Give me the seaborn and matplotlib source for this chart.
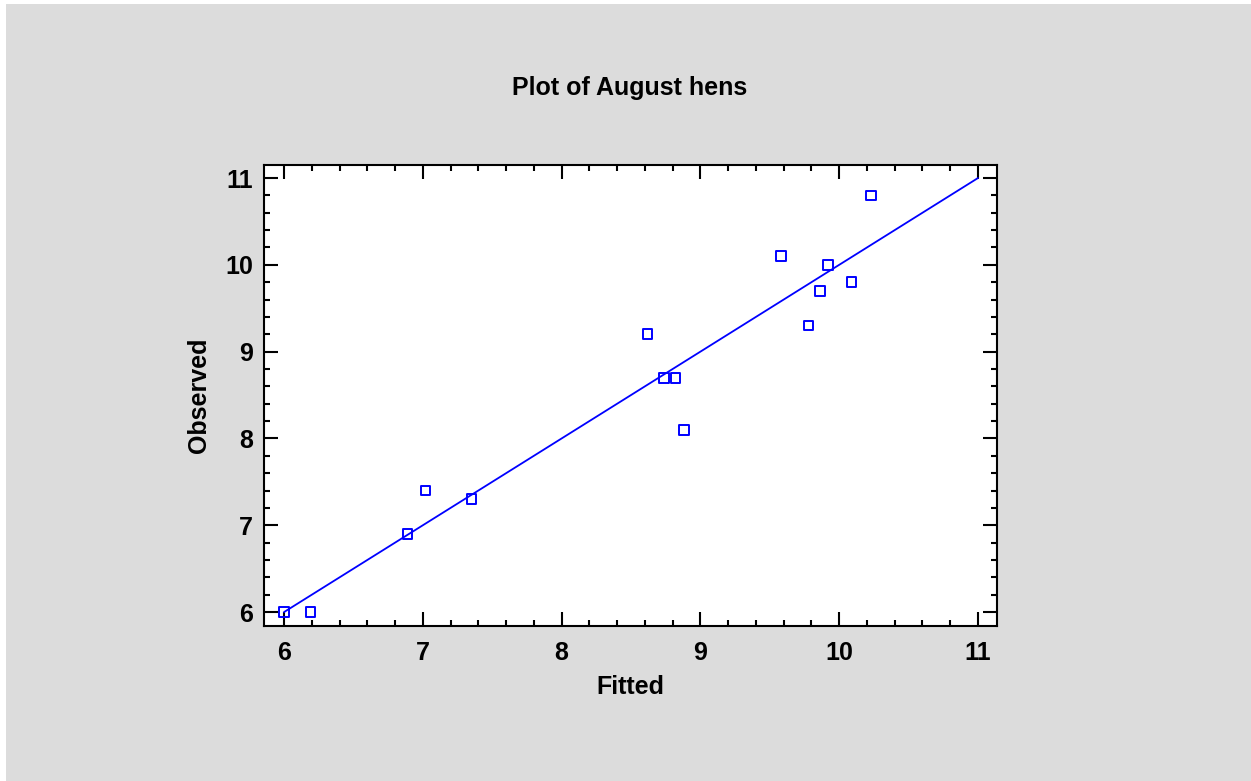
import matplotlib
matplotlib.use("Agg")
import matplotlib.pyplot as plt
from matplotlib.patches import Rectangle
from matplotlib.ticker import MultipleLocator
import pandas as pd
import seaborn as sns

# Observed vs fitted values for the August hens model
fitted = [6.00, 6.19, 6.89, 7.02, 7.35, 8.62, 8.74, 8.82, 8.88,
          9.58, 9.78, 9.86, 9.92, 10.09, 10.23]
observed = [6.0, 6.0, 6.9, 7.4, 7.3, 9.2, 8.7, 8.7, 8.1,
            10.1, 9.3, 9.7, 10.0, 9.8, 10.8]

# Reference line (observed = fitted)
line_x = [6, 11]
line_y = [6, 11]

x_ticks = [6, 7, 8, 9, 10, 11]
y_ticks = [6, 7, 8, 9, 10, 11]

sns.set_theme(style="white")
plt.rcParams["font.family"] = ["Liberation Sans", "DejaVu Sans"]
plt.rcParams["font.weight"] = "bold"

fig = plt.figure(figsize=(12.51, 7.81), dpi=100, facecolor="white")
# grey panel behind the chart
fig.patches.append(Rectangle((6 / 1251, 0), 1 - 6 / 1251, 1 - 4 / 781,
                             transform=fig.transFigure, facecolor="#dcdcdc",
                             edgecolor="none", zorder=-10))

ax = fig.add_axes([264 / 1251, 155 / 781, 733 / 1251, 461 / 781])
ax.set_facecolor("white")

pts = pd.DataFrame({"Fitted": fitted, "Observed": observed})
ref = pd.DataFrame({"x": line_x, "y": line_y})

sns.lineplot(data=ref, x="x", y="y", ax=ax, color="#0000ff", linewidth=1.3)
sns.scatterplot(data=pts, x="Fitted", y="Observed", ax=ax, marker="s", s=48,
                facecolor="none", edgecolor="#0000ff", linewidth=1.4, zorder=3)

ax.set_xlim(5.856, 11.137)
ax.set_ylim(5.84, 11.15)
ax.set_xticks(x_ticks)
ax.set_yticks(y_ticks)
ax.set_xticklabels([str(v) for v in x_ticks])
ax.set_yticklabels([str(v) for v in y_ticks])
ax.xaxis.set_minor_locator(MultipleLocator(0.2))
ax.yaxis.set_minor_locator(MultipleLocator(0.2))

for side in ax.spines.values():
    side.set_visible(True)
    side.set_color("black")
    side.set_linewidth(1.5)

ax.tick_params(which="both", direction="in", top=True, right=True,
               bottom=True, left=True, color="black")
ax.tick_params(which="major", length=10, width=1.5, labelsize=18,
               labelcolor="black")
ax.tick_params(axis="x", which="major", pad=11)
ax.tick_params(axis="y", which="major", pad=8)
ax.tick_params(which="minor", length=4.5, width=1.5)
for lab in ax.get_xticklabels() + ax.get_yticklabels():
    lab.set_fontweight("bold")

ax.set_xlabel("Fitted", fontsize=18, fontweight="bold", color="black", labelpad=7)
ax.set_ylabel("Observed", fontsize=18, fontweight="bold", color="black", labelpad=10)

fig.text(630 / 1251, 1 - 88 / 781, "Plot of August hens", ha="center",
         va="center", fontsize=18, fontweight="bold", color="black")

fig.savefig("out.png", dpi=100, facecolor=fig.get_facecolor())
